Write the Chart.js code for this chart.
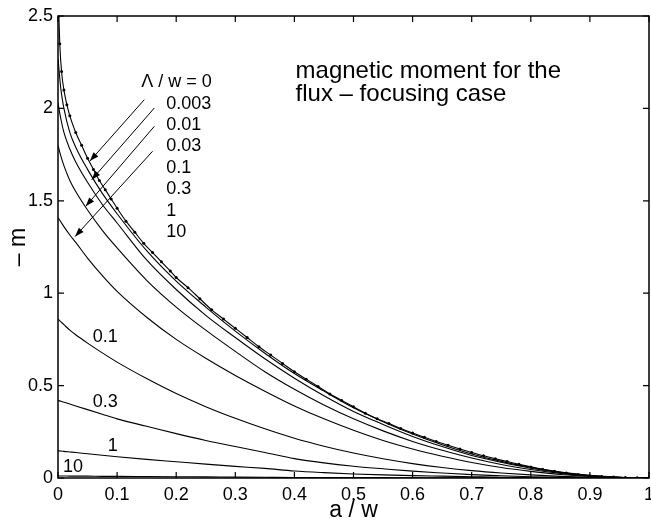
<!DOCTYPE html>
<html>
<head>
<meta charset="utf-8">
<script src="https://cdn.jsdelivr.net/npm/chart.js@4.4.0/dist/chart.umd.min.js"></script>
<style>
  html, body { margin: 0; padding: 0; background: #fff; overflow: hidden; }
  #wrap { width: 660px; height: 527px; }
</style>
</head>
<body>
<div id="wrap"><canvas id="c" width="660" height="527"></canvas></div>
<script>
const FONT = '"Liberation Sans", Arial, Helvetica, sans-serif';

// a / w positions shared by the solid curves
const aw = [0, 0.005, 0.01, 0.02, 0.03, 0.05, 0.075, 0.1, 0.15, 0.2, 0.25, 0.3, 0.35,
            0.4, 0.45, 0.5, 0.55, 0.6, 0.65, 0.7, 0.75, 0.8, 0.85, 0.9, 0.95, 1];

// -m for each Lambda / w
const m_0003 = [2.27, 2.10, 2.00, 1.87, 1.79, 1.67, 1.54, 1.43, 1.23, 1.065, 0.925, 0.795, 0.675,
                0.565, 0.47, 0.38, 0.305, 0.238, 0.18, 0.13, 0.09, 0.058, 0.032, 0.014, 0.004, 0];
const m_001  = [2.03, 1.94, 1.87, 1.78, 1.71, 1.60, 1.48, 1.38, 1.18, 1.02, 0.88, 0.76, 0.645,
                0.54, 0.445, 0.36, 0.29, 0.225, 0.17, 0.122, 0.085, 0.053, 0.03, 0.013, 0.004, 0];
const m_003  = [1.80, 1.74, 1.69, 1.61, 1.55, 1.45, 1.34, 1.245, 1.07, 0.925, 0.80, 0.685, 0.575,
                0.48, 0.395, 0.32, 0.255, 0.198, 0.15, 0.108, 0.073, 0.046, 0.025, 0.011, 0.003, 0];
const m_01a  = [1.41, 1.385, 1.36, 1.315, 1.275, 1.19, 1.095, 1.01, 0.87, 0.75, 0.648, 0.555, 0.47,
                0.39, 0.32, 0.258, 0.203, 0.157, 0.118, 0.084, 0.057, 0.036, 0.019, 0.008, 0.002, 0];
const m_01   = [0.86, 0.845, 0.83, 0.80, 0.775, 0.73, 0.677, 0.627, 0.538, 0.457, 0.386, 0.323, 0.266,
                0.215, 0.172, 0.135, 0.104, 0.078, 0.057, 0.04, 0.027, 0.017, 0.009, 0.004, 0.001, 0];
const m_03   = [0.42, 0.415, 0.41, 0.40, 0.39, 0.37, 0.345, 0.32, 0.28, 0.24, 0.203, 0.17, 0.138,
                0.105, 0.082, 0.064, 0.05, 0.037, 0.027, 0.018, 0.012, 0.007, 0.004, 0.002, 0.001, 0];
const m_1    = [0.147, 0.146, 0.144, 0.141, 0.138, 0.131, 0.123, 0.115, 0.101, 0.088, 0.075, 0.063, 0.052,
                0.038, 0.029, 0.022, 0.017, 0.013, 0.01, 0.007, 0.004, 0.003, 0.002, 0.001, 0, 0];
const m_10   = [0.011, 0.011, 0.011, 0.010, 0.010, 0.010, 0.009, 0.009, 0.008, 0.007, 0.006, 0.005, 0.004,
                0.003, 0.003, 0.002, 0.002, 0.001, 0.001, 0.001, 0, 0, 0, 0, 0, 0];

// Lambda / w = 0 curve with dots
const dotA = [0.0015, 0.003, 0.006, 0.01, 0.015, 0.02, 0.03, 0.04, 0.05, 0.06, 0.07, 0.08, 0.09, 0.1,
              0.115, 0.13, 0.145, 0.16, 0.175, 0.19, 0.2, 0.22, 0.24, 0.26, 0.28, 0.3, 0.32, 0.34,
              0.36, 0.38, 0.4, 0.42, 0.44, 0.46, 0.48, 0.5, 0.52, 0.54, 0.56, 0.58, 0.6, 0.62, 0.64,
              0.66, 0.68, 0.7, 0.72, 0.74, 0.76, 0.78, 0.8, 0.82, 0.84, 0.86, 0.88, 0.9, 0.92, 0.94,
              0.96, 0.98, 1.0];
const dotM = [2.5, 2.35, 2.2, 2.1, 2.02, 1.96, 1.87, 1.80, 1.73, 1.67, 1.61, 1.56, 1.51, 1.46,
              1.39, 1.33, 1.27, 1.22, 1.17, 1.12, 1.085, 1.03, 0.97, 0.91, 0.86, 0.81, 0.76, 0.71,
              0.665, 0.62, 0.575, 0.535, 0.495, 0.455, 0.42, 0.385, 0.35, 0.32, 0.295, 0.268, 0.243,
              0.22, 0.198, 0.177, 0.157, 0.138, 0.12, 0.104, 0.089, 0.074, 0.06, 0.047, 0.036, 0.027,
              0.019, 0.012, 0.008, 0.005, 0.003, 0.001, 0];

const xTicks = [0, 0.1, 0.2, 0.3, 0.4, 0.5, 0.6, 0.7, 0.8, 0.9, 1];
const yTicks = [0, 0.5, 1, 1.5, 2, 2.5];

// legend list in the upper left, with arrows to the first four curves
const listText = ['\u039B / w = 0', '0.003', '0.01', '0.03', '0.1', '0.3', '1', '10'];
const listA    = [0.141, 0.183, 0.183, 0.183, 0.183, 0.183, 0.183, 0.183];
const listM    = [2.140, 2.026, 1.912, 1.798, 1.679, 1.566, 1.446, 1.333];
const arrowFrom = [[0.146, 2.047], [0.163, 2.002], [0.163, 1.903], [0.160, 1.768]];
const arrowTo   = [[0.054, 1.715], [0.057, 1.614], [0.047, 1.470], [0.029, 1.307]];

// labels sitting on the lower curves
const curveText = ['0.1', '0.3', '1', '10'];
const curveA    = [0.0588, 0.0588, 0.084, 0.0084];
const curveM    = [0.761, 0.409, 0.173, 0.061];

const titleLines = ['magnetic moment for the', 'flux \u2013 focusing case'];
const titleA = 0.402;
const titleM = [2.167, 2.042];

const pts = (xs, ys) => xs.map((v, i) => ({ x: v, y: ys[i] }));

function line(data) {
  return {
    data,
    showLine: true,
    borderColor: '#000',
    borderWidth: 1.1,
    pointRadius: 0,
    cubicInterpolationMode: 'monotone',
  };
}

const overlay = {
  id: 'overlay',
  afterDatasetsDraw(chart) {
    const { ctx, chartArea: ca, scales: { x, y } } = chart;
    ctx.save();
    ctx.strokeStyle = '#000';
    ctx.fillStyle = '#000';

    // box + inward ticks
    ctx.lineWidth = 1.5;
    ctx.strokeRect(ca.left, ca.top, ca.right - ca.left, ca.bottom - ca.top);
    ctx.lineWidth = 1.2;
    ctx.beginPath();
    xTicks.forEach(v => {
      const px = x.getPixelForValue(v);
      ctx.moveTo(px, ca.bottom); ctx.lineTo(px, ca.bottom - 6);
      ctx.moveTo(px, ca.top); ctx.lineTo(px, ca.top + 6);
    });
    yTicks.forEach(v => {
      const py = y.getPixelForValue(v);
      ctx.moveTo(ca.left, py); ctx.lineTo(ca.left + 6, py);
      ctx.moveTo(ca.right, py); ctx.lineTo(ca.right - 6, py);
    });
    ctx.stroke();

    // arrows
    ctx.lineWidth = 1;
    arrowFrom.forEach((f, i) => {
      const x0 = x.getPixelForValue(f[0]), y0 = y.getPixelForValue(f[1]);
      const x1 = x.getPixelForValue(arrowTo[i][0]), y1 = y.getPixelForValue(arrowTo[i][1]);
      const ang = Math.atan2(y1 - y0, x1 - x0);
      ctx.beginPath();
      ctx.moveTo(x0, y0); ctx.lineTo(x1, y1);
      ctx.stroke();
      const L = 9, W = 3.2;
      ctx.beginPath();
      ctx.moveTo(x1, y1);
      ctx.lineTo(x1 - L * Math.cos(ang) + W * Math.sin(ang), y1 - L * Math.sin(ang) - W * Math.cos(ang));
      ctx.lineTo(x1 - L * Math.cos(ang) - W * Math.sin(ang), y1 - L * Math.sin(ang) + W * Math.cos(ang));
      ctx.closePath();
      ctx.fill();
    });

    // text
    ctx.textAlign = 'left';
    ctx.textBaseline = 'middle';
    ctx.font = '18px ' + FONT;
    listText.forEach((t, i) => ctx.fillText(t, x.getPixelForValue(listA[i]), y.getPixelForValue(listM[i])));
    curveText.forEach((t, i) => ctx.fillText(t, x.getPixelForValue(curveA[i]), y.getPixelForValue(curveM[i])));

    ctx.textBaseline = 'alphabetic';
    ctx.font = '24px ' + FONT;
    titleLines.forEach((t, i) => ctx.fillText(t, x.getPixelForValue(titleA), y.getPixelForValue(titleM[i])));
    ctx.restore();
  }
};

new Chart(document.getElementById('c'), {
  type: 'scatter',
  data: {
    datasets: [
      {
        data: pts(dotA, dotM),
        showLine: true,
        borderColor: '#000',
        borderWidth: 1.1,
        pointRadius: 1.5,
        pointBorderWidth: 0,
        pointBackgroundColor: '#000',
        cubicInterpolationMode: 'monotone',
      },
      line(pts(aw, m_0003)),
      line(pts(aw, m_001)),
      line(pts(aw, m_003)),
      line(pts(aw, m_01a)),
      line(pts(aw, m_01)),
      line(pts(aw, m_03)),
      line(pts(aw, m_1)),
      line(pts(aw, m_10)),
    ]
  },
  options: {
    responsive: false,
    animation: false,
    events: [],
    layout: { padding: { top: 16, right: 7, left: 0, bottom: 0 } },
    plugins: { legend: { display: false }, tooltip: { enabled: false } },
    scales: {
      x: {
        type: 'linear', min: 0, max: 1,
        afterBuildTicks: s => { s.ticks = xTicks.map(v => ({ value: v })); },
        afterFit: s => { s.height = 49; },
        grid: { display: false, drawTicks: false },
        border: { display: false },
        ticks: {
          padding: 6, color: '#000', font: { family: FONT, size: 18 }, maxRotation: 0,
          callback: v => String(+v.toFixed(1)),
        },
        title: { display: true, text: 'a / w', color: '#000', font: { family: FONT, size: 23 }, padding: { top: 0, bottom: 3 } },
      },
      y: {
        type: 'linear', min: 0, max: 2.5,
        afterBuildTicks: s => { s.ticks = yTicks.map(v => ({ value: v })); },
        afterFit: s => { s.width = 58; },
        grid: { display: false, drawTicks: false },
        border: { display: false },
        ticks: {
          padding: 5, color: '#000', font: { family: FONT, size: 18 },
          callback: v => String(+v.toFixed(1)),
        },
        title: { display: true, text: '\u2013 m', color: '#000', font: { family: FONT, size: 23 }, padding: { top: 5, bottom: 0 } },
      }
    }
  },
  plugins: [overlay]
});
</script>
</body>
</html>
